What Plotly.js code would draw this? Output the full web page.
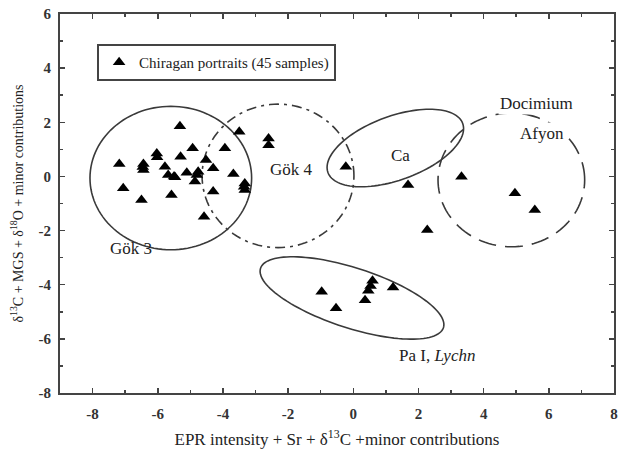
<!DOCTYPE html>
<html>
<head>
<meta charset="utf-8">
<script src="https://cdn.plot.ly/plotly-3.0.1.min.js"></script>
<style>html,body{margin:0;padding:0;background:#fff;}#chart{width:629px;height:452px;}</style>
</head>
<body>
<div id="chart"></div>
<script>
// Chiragan portraits (45 samples)
var sampleX = [-5.32,-3.50,-2.60,-2.60,-4.93,-3.94,-6.03,-6.02,-5.30,-7.18,-6.44,-6.44,-5.78,-4.52,-4.30,-5.68,-5.47,-5.11,-4.76,-4.86,-3.68,-3.33,-3.33,-7.06,-5.58,-4.30,-6.50,-4.58,
               -0.23,1.68,3.32,4.96,5.57,2.27,
               -0.97,-0.53,0.59,0.53,0.46,0.36,1.22,
               -6.46,-4.80,-3.35,-5.50];
var sampleY = [1.85,1.65,1.40,1.15,1.04,1.04,0.85,0.71,0.73,0.46,0.46,0.24,0.36,0.61,0.30,0.05,-0.03,0.14,0.17,-0.19,0.09,-0.26,-0.50,-0.44,-0.69,-0.56,-0.87,-1.49,
               0.36,-0.32,-0.01,-0.62,-1.24,-1.98,
               -4.26,-4.87,-3.85,-4.05,-4.22,-4.57,-4.10,
               0.35,0.05,-0.38,0.00];

// Tick labels
var xTickVals = [-8,-6,-4,-2,0,2,4,6,8];
var xTickText = ["-8","-6","-4","-2","0","2","4","6","8"];
var yTickVals = [-8,-6,-4,-2,0,2,4,6];
var yTickText = ["-8","-6","-4","-2","0","2","4","6"];

// Source fields (ellipses): centre, semi-axes (x units), rotation (deg, screen), dash
var fieldNames = ["Gök 3","Gök 4","Ca","Docimium","Pa I"];
var fieldCX    = [-5.60,-2.31,1.29,4.85,-0.04];
var fieldCY    = [-0.06,0.02,1.05,-0.13,-4.49];
var fieldA     = [2.48,2.33,2.20,2.25,2.95];
var fieldB     = [2.20,2.20,0.98,2.05,0.92];
var fieldRot   = [0,0,20,0,-18];
var fieldDash  = ["solid","10px,5px,3px,5px","solid","18px,9px","solid"];

// Labels
var labelText = ["Gök 3","Gök 4","Ca","Docimium","Afyon","Pa I, <i>Lychn</i>"];
var labelX    = [-6.82,-1.91,1.46,5.63,5.79,2.56];
var labelY    = [-2.68,0.24,0.79,2.68,1.60,-6.60];
var labelBg   = ["rgba(0,0,0,0)","rgba(0,0,0,0)","rgba(0,0,0,0)","#ffffff","#ffffff","rgba(0,0,0,0)"];

var SERIF = "Liberation Serif";
var pxPerX = 32.6, pxPerY = 27.07;
function ellipsePath(cx, cy, a, b, rotDeg) {
  var th = rotDeg * Math.PI / 180, ratio = pxPerX / pxPerY, p = "";
  for (var i = 0; i <= 120; i++) {
    var t = 2 * Math.PI * i / 120;
    var dx = a * Math.cos(t) * Math.cos(th) - b * Math.sin(t) * Math.sin(th);
    var dy = (a * Math.cos(t) * Math.sin(th) + b * Math.sin(t) * Math.cos(th)) * ratio;
    p += (i === 0 ? "M" : "L") + (cx + dx).toFixed(4) + "," + (cy + dy).toFixed(4);
  }
  return p + "Z";
}

var shapes = fieldNames.map(function (n, i) {
  return {type: "path", xref: "x", yref: "y", path: ellipsePath(fieldCX[i], fieldCY[i], fieldA[i], fieldB[i], fieldRot[i]),
          line: {color: "#3a3a3a", width: 1.6, dash: fieldDash[i]}, layer: "below"};
});

var annotations = labelText.map(function (t, i) {
  return {x: labelX[i], y: labelY[i], xref: "x", yref: "y", text: t, showarrow: false, bgcolor: labelBg[i],
          font: {family: SERIF, size: 17, color: "#222"}};
});

var font = {family: SERIF, size: 14, color: "#222"};

var trace = {x: sampleX, y: sampleY, type: "scatter", mode: "markers", name: "Chiragan portraits (45 samples)",
             marker: {symbol: "triangle-up", size: 11, color: "#000"}};

var axisBase = {showline: true, linecolor: "#444", linewidth: 2, mirror: "ticks", ticks: "inside", ticklen: 5,
                tickcolor: "#444", tickwidth: 1.5, zeroline: false, showgrid: false, tickmode: "array",
                tickfont: {family: SERIF, size: 15, color: "#333", weight: "bold"},
                minor: {ticks: "inside", ticklen: 3, tickcolor: "#444", dtick: 1}};

var layout = {
  width: 629, height: 452,
  margin: {l: 60, r: 15, t: 14, b: 59},
  paper_bgcolor: "#fff", plot_bgcolor: "#fff",
  font: font,
  showlegend: true,
  legend: {x: 0.067, y: 0.921, xanchor: "left", yanchor: "top", bordercolor: "#444", borderwidth: 2,
           font: {family: SERIF, size: 15, color: "#222"}, bgcolor: "#fff"},
  xaxis: Object.assign({}, axisBase, {range: [-9, 8], tickvals: xTickVals, ticktext: xTickText, ticklabelstandoff: 6,
          title: {text: "EPR intensity + Sr + δ<sup>13</sup>C +minor contributions", font: {family: SERIF, size: 17, color: "#222"}, standoff: 12}}),
  yaxis: Object.assign({}, axisBase, {range: [-8, 6], tickvals: yTickVals, ticktext: yTickText, ticklabelstandoff: 4,
          title: {text: "δ<sup>13</sup>C + MGS + δ<sup>18</sup>O + minor contributions", font: {family: SERIF, size: 14, color: "#222"}, standoff: 12}}),
  shapes: shapes,
  annotations: annotations
};

Plotly.newPlot("chart", [trace], layout, {displayModeBar: false, staticPlot: true});
</script>
</body>
</html>
